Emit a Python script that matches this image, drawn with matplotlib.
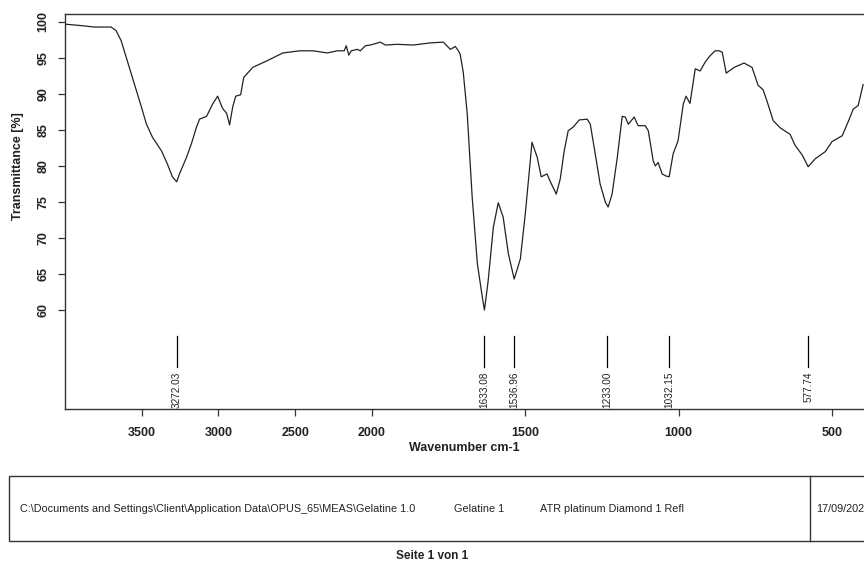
import numpy as np
import matplotlib
matplotlib.use("Agg")
import matplotlib.pyplot as plt
from matplotlib.patches import Rectangle
from matplotlib.lines import Line2D

# spectrum (wavenumber cm-1, transmittance %)
wavenumber = [4000, 3896, 3811, 3700, 3667, 3634, 3601, 3568, 3535, 3502,
              3469, 3430, 3371, 3333, 3300, 3272, 3254, 3208, 3176, 3143,
              3123, 3077, 3038, 3005, 2973, 2946, 2927, 2907, 2887, 2855,
              2835, 2776, 2684, 2580, 2468, 2383, 2291, 2226, 2180, 2167,
              2150, 2134, 2095, 2075, 2042, 2010, 1972, 1956, 1917, 1865,
              1809, 1767, 1751, 1744, 1728, 1718, 1712, 1702, 1689, 1673,
              1656, 1640, 1633, 1621, 1604, 1588, 1572, 1555, 1536, 1516,
              1500, 1478, 1461, 1448, 1429, 1419, 1399, 1386, 1373, 1360,
              1344, 1324, 1298, 1288, 1272, 1256, 1239, 1230, 1217, 1200,
              1184, 1174, 1164, 1145, 1132, 1109, 1099, 1083, 1076, 1067,
              1054, 1041, 1031, 1018, 1002, 985, 976, 963, 946, 930,
              914, 898, 881, 868, 858, 845, 819, 787, 761, 741,
              725, 712, 692, 669, 637, 621, 597, 578, 555, 522,
              500, 467, 448, 431, 415, 399]
transmittance = [99.7, 99.5, 99.3, 99.3, 98.8, 97.4, 95.1, 92.8, 90.5, 88.2,
                 85.8, 84.0, 82.1, 80.3, 78.5, 77.8, 78.9, 81.2, 83.1, 85.4,
                 86.5, 86.9, 88.6, 89.7, 88.0, 87.3, 85.7, 88.2, 89.7, 89.9,
                 92.3, 93.7, 94.6, 95.7, 96.0, 96.0, 95.7, 96.0, 96.0, 96.7,
                 95.4, 96.0, 96.2, 96.0, 96.7, 96.8, 97.2, 96.8, 96.9, 96.8,
                 97.1, 97.2, 96.5, 96.2, 96.6, 96.0, 95.5, 93.0, 87.2, 75.7,
                 66.4, 61.8, 60.0, 64.0, 71.5, 74.9, 72.9, 67.8, 64.3, 67.1,
                 73.3, 83.3, 81.2, 78.5, 78.9, 77.9, 76.1, 78.2, 82.1, 84.9,
                 85.4, 86.4, 86.5, 85.8, 81.7, 77.5, 75.0, 74.3, 76.1, 81.2,
                 86.9, 86.8, 85.8, 86.8, 85.6, 85.6, 84.9, 80.7, 80.0, 80.5,
                 78.9, 78.6, 78.5, 81.7, 83.5, 88.6, 89.7, 88.7, 93.5, 93.2,
                 94.4, 95.3, 96.0, 96.0, 95.8, 92.9, 93.7, 94.3, 93.7, 91.2,
                 90.6, 89.0, 86.3, 85.3, 84.4, 82.9, 81.5, 79.9, 81.0, 82.0,
                 83.4, 84.2, 86.1, 87.9, 88.4, 91.3]

peaks = [3272.03, 1633.08, 1536.96, 1233.00, 1032.15, 577.74]
xticks = [3500, 3000, 2500, 2000, 1500, 1000, 500]
yticks = [60, 65, 70, 75, 80, 85, 90, 95, 100]

footer_path = "C:\\Documents and Settings\\Client\\Application Data\\OPUS_65\\MEAS\\Gelatine 1.0"
footer_name = "Gelatine 1"
footer_method = "ATR platinum Diamond 1 Refl"
footer_date = "17/09/2021"


# OPUS style axis: region above 2000 cm-1 is compressed by 2
def fwd(x):
    x = np.asarray(x, dtype=float)
    return np.where(x > 2000, 2000 + (x - 2000) / 2.0, x)


def inv(u):
    u = np.asarray(u, dtype=float)
    return np.where(u > 2000, 2000 + (u - 2000) * 2.0, u)


plt.rcParams['font.family'] = ['Liberation Sans', 'DejaVu Sans']

fig = plt.figure(figsize=(8.64, 5.66), dpi=100)
ax = fig.add_axes([65 / 864, 1 - 409 / 566, 1 - 65 / 864, 395 / 566])

ax.set_xscale('function', functions=(fwd, inv))
ax.plot(wavenumber, transmittance, color='#222222', lw=0.9)
ax.set_xlim(4000, 396)
ax.set_ylim(46.25, 101.11)

# peak markers
for p in peaks:
    ax.plot([p, p], [56.4, 52.1], color='black', lw=0.9)
    ax.text(p, 51.5, '%.2f' % p, rotation=90, ha='center', va='top',
            fontsize=7.2, family=['Liberation Sans Narrow', 'Liberation Sans'],
            color='#222222')

ax.set_xticks(xticks)
ax.set_xticklabels([str(t) for t in xticks])
ax.set_yticks(yticks)
ax.set_yticklabels([str(t) for t in yticks], rotation=90, va='center')
ax.minorticks_off()

for lab in ax.get_xticklabels() + ax.get_yticklabels():
    lab.set_fontweight('bold')
    lab.set_fontsize(9)
    lab.set_color('#222222')

ax.tick_params(axis='x', direction='out', length=5, width=0.9, pad=8, colors='#333333')
ax.tick_params(axis='y', direction='out', length=5, width=0.9, pad=6, colors='#333333')
for lab in ax.get_xticklabels() + ax.get_yticklabels():
    lab.set_color('#222222')

ax.spines['right'].set_visible(False)
for s in ['left', 'top', 'bottom']:
    ax.spines[s].set_color('#333333')
    ax.spines[s].set_linewidth(1.0)

ax.set_xlabel('Wavenumber cm-1', fontsize=9, fontweight='bold', va='center', color='#222222')
ax.xaxis.set_label_coords(0.5, -(448 - 409) / 395)
ax.set_ylabel('Transmittance [%]', fontsize=9, fontweight='bold', va='center', color='#222222')
ax.yaxis.set_label_coords(-(65 - 18) / 799, (80 - 46.25) / (101.11 - 46.25))

# footer box
fig.add_artist(Rectangle((9 / 864, 1 - 541 / 566), 1.0, 65 / 566,
                         transform=fig.transFigure, fill=False,
                         edgecolor='#333333', lw=1.0))
fig.add_artist(Line2D([810 / 864, 810 / 864], [1 - 541 / 566, 1 - 476 / 566],
                      transform=fig.transFigure, color='#333333', lw=1.0))
ty = 1 - 509 / 566
fig.text(20 / 864, ty, footer_path, fontsize=7.8, va='center', color='#222222')
fig.text(454 / 864, ty, footer_name, fontsize=7.8, va='center', color='#222222')
fig.text(540 / 864, ty, footer_method, fontsize=7.8, va='center', color='#222222')
fig.text(816 / 864, ty, footer_date, fontsize=7.8, va='center', color='#222222')
fig.text(432 / 864, 1 - 556 / 566, 'Seite 1 von 1', fontsize=8.5, fontweight='bold',
         ha='center', va='center', color='#222222')

fig.savefig('out.png', dpi=100)
